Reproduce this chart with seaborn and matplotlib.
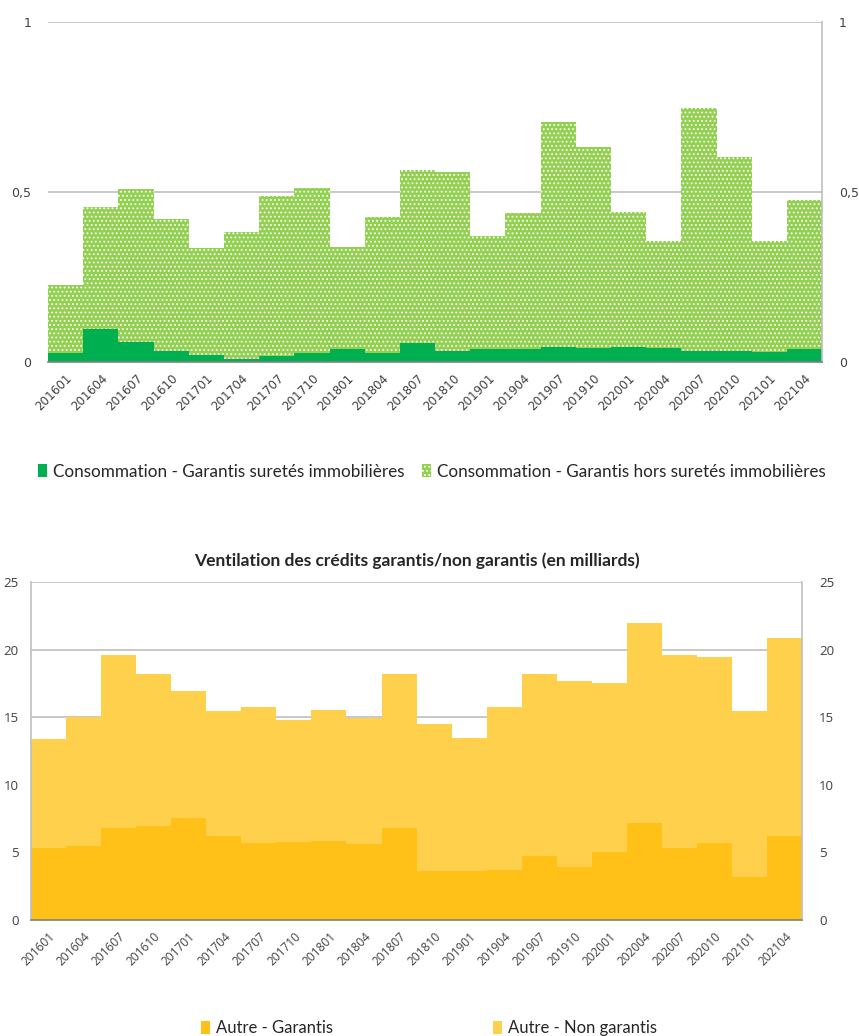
import numpy as np
import pandas as pd
import matplotlib
matplotlib.use("Agg")
import matplotlib.pyplot as plt
import seaborn as sns
from matplotlib.patches import Patch

# ── Données ──────────────────────────────────────────────
periodes = ["201601", "201604", "201607", "201610", "201701", "201704", "201707",
            "201710", "201801", "201804", "201807", "201810", "201901", "201904",
            "201907", "201910", "202001", "202004", "202007", "202010", "202101",
            "202104"]

conso_surete = [0.027, 0.097, 0.060, 0.032, 0.020, 0.008, 0.018, 0.027, 0.038, 0.027,
                0.055, 0.033, 0.038, 0.038, 0.045, 0.040, 0.045, 0.040, 0.033, 0.033,
                0.028, 0.038]
conso_hors_surete = [0.199, 0.360, 0.449, 0.388, 0.315, 0.375, 0.471, 0.484, 0.300, 0.399,
                     0.510, 0.527, 0.333, 0.401, 0.660, 0.591, 0.397, 0.317, 0.713, 0.571,
                     0.329, 0.438]

autre_garantis = [5.30, 5.50, 6.80, 6.95, 7.55, 6.20, 5.70, 5.75, 5.85, 5.60, 6.80,
                  3.65, 3.65, 3.70, 4.70, 3.90, 5.00, 7.20, 5.35, 5.70, 3.20, 6.20]
autre_non_garantis = [8.10, 9.50, 12.85, 11.25, 9.40, 9.25, 10.10, 9.05, 9.70, 9.35, 11.40,
                      10.85, 9.85, 12.10, 13.50, 13.80, 12.55, 14.80, 14.30, 13.75, 12.30,
                      14.65]

VERT_FONCE = "#00B050"
VERT_CLAIR = "#92D050"
JAUNE_FONCE = "#FFC117"
JAUNE_CLAIR = "#FFD04C"
GRIS = "#BFBFBF"
TEXTE = "#404040"

df_top = pd.DataFrame({
    "periode": periodes,
    "surete": conso_surete,
    "total": np.array(conso_surete) + np.array(conso_hors_surete),
})
df_bot = pd.DataFrame({
    "periode": periodes,
    "garantis": autre_garantis,
    "total": np.array(autre_garantis) + np.array(autre_non_garantis),
})

sns.set_style("white")
plt.rcParams["font.family"] = ["DejaVu Sans"]
plt.rcParams["hatch.linewidth"] = 0.8

fig = plt.figure(figsize=(8.59, 10.36), dpi=100)


def style_axes(ax, ticks, labels, ymax, tick_font, ysize, xsize, ypad):
    n = len(periodes)
    ax.set_xlim(-0.5, n - 0.5)
    ax.set_ylim(0, ymax)
    ax.set_xlabel("")
    ax.set_ylabel("")
    ax.set_yticks(ticks)
    ax.set_yticklabels(labels, fontsize=ysize, color=TEXTE, family=tick_font)
    ax.tick_params(axis="y", length=0, pad=ypad)
    ax.yaxis.grid(True, color=GRIS, linewidth=1.2)
    ax.set_axisbelow(True)
    # étiquettes au centre des barres, graduations aux bords
    ax.set_xticks(np.arange(n))
    ax.set_xticklabels(periodes, rotation=45, ha="right", rotation_mode="anchor",
                       fontsize=xsize, color=TEXTE, family=tick_font)
    ax.set_xticks(np.arange(n + 1) - 0.5, minor=True)
    ax.tick_params(axis="x", which="major", length=0, pad=7)
    ax.tick_params(axis="x", which="minor", length=4, color="#808080", width=1)
    for side in ["left", "top"]:
        ax.spines[side].set_visible(False)
    ax.spines["right"].set_color(GRIS)
    ax.spines["right"].set_linewidth(1.2)
    ax.spines["bottom"].set_color("#808080")
    ax.spines["bottom"].set_linewidth(1.2)
    twin = ax.twinx()
    twin.set_ylim(0, ymax)
    twin.set_yticks(ticks)
    twin.set_yticklabels(labels, fontsize=ysize, color=TEXTE, family=tick_font)
    twin.tick_params(axis="y", length=0, pad=12)
    for s in twin.spines.values():
        s.set_visible(False)
    return twin


# ── Graphique du haut : consommation ─────────────────────
ax1 = fig.add_axes([0.056, 0.6506, 0.901, 0.3282])
sns.barplot(data=df_top, x="periode", y="total", color=VERT_CLAIR, saturation=1,
            width=1.0, errorbar=None, ax=ax1)
for p in ax1.patches:
    p.set_hatch("....")
    p.set_edgecolor("white")
    p.set_linewidth(0)
n_light = len(ax1.patches)
sns.barplot(data=df_top, x="periode", y="surete", color=VERT_FONCE, saturation=1,
            width=1.0, errorbar=None, ax=ax1)
for p in ax1.patches[n_light:]:
    p.set_linewidth(0)
style_axes(ax1, [0, 0.5, 1], ["0", "0,5", "1"], 1, "DejaVu Sans", 9, 8.6, 12)

fig.legend(handles=[Patch(facecolor=VERT_FONCE, edgecolor="none"),
                    Patch(facecolor=VERT_CLAIR, edgecolor="white", hatch="....", linewidth=0)],
           labels=["Consommation - Garantis suretés immobilières",
                   "Consommation - Garantis hors suretés immobilières"],
           loc="center", bbox_to_anchor=(0.503, 0.5445), ncol=2, frameon=False,
           prop={"family": "Lato", "size": 12.3}, handlelength=0.55, handleheight=0.8,
           handletextpad=0.35, columnspacing=1.0, labelcolor="#262626")

# ── Graphique du bas : autres crédits ────────────────────
ax2 = fig.add_axes([0.036, 0.112, 0.898, 0.326])
sns.barplot(data=df_bot, x="periode", y="total", color=JAUNE_CLAIR, saturation=1,
            width=1.0, errorbar=None, ax=ax2)
sns.barplot(data=df_bot, x="periode", y="garantis", color=JAUNE_FONCE, saturation=1,
            width=1.0, errorbar=None, ax=ax2)
for p in ax2.patches:
    p.set_linewidth(0)
style_axes(ax2, [0, 5, 10, 15, 20, 25], ["0", "5", "10", "15", "20", "25"], 25,
           "Open Sans", 9.5, 8.6, 9)
ax2.spines["left"].set_visible(True)
ax2.spines["left"].set_color(GRIS)
ax2.spines["left"].set_linewidth(1.2)
ax2.set_title("Ventilation des crédits garantis/non garantis (en milliards)",
              fontsize=12.5, fontweight="bold", family="Lato", color="#262626", pad=12)

fig.legend(handles=[Patch(facecolor=JAUNE_FONCE, edgecolor="none"),
                    Patch(facecolor=JAUNE_CLAIR, edgecolor="none")],
           labels=["Autre - Garantis", "Autre - Non garantis"],
           loc="center", bbox_to_anchor=(0.499, 0.0075), ncol=2, frameon=False,
           prop={"family": "Lato", "size": 12}, handlelength=0.55, handleheight=0.8,
           handletextpad=0.35, columnspacing=9.6, labelcolor="#262626")

fig.savefig("out.png", dpi=100)
plt.close()
